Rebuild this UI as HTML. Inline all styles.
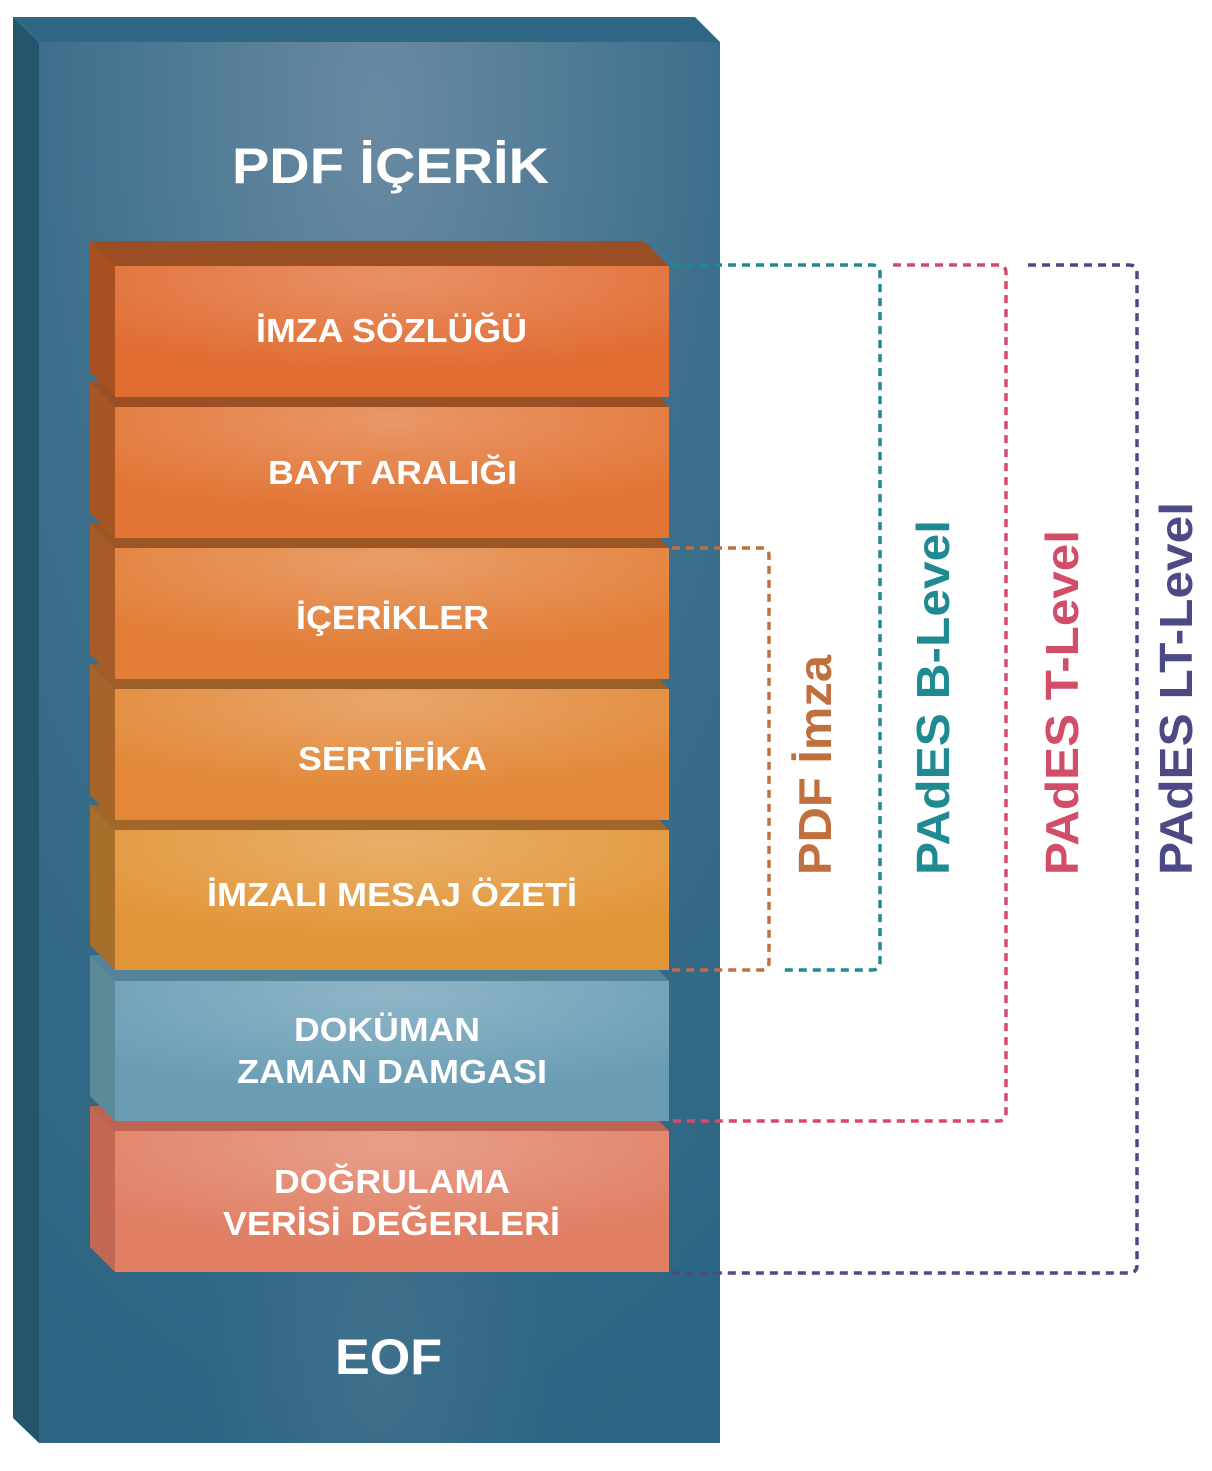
<!DOCTYPE html>
<html><head><meta charset="utf-8"><style>
html,body{margin:0;padding:0;background:#fff;}
svg{display:block}
text{font-family:"Liberation Sans",sans-serif;font-weight:bold;}
</style></head><body>
<svg width="1212" height="1471" viewBox="0 0 1212 1471" xmlns="http://www.w3.org/2000/svg">
<defs>
<radialGradient id="bg" cx="0.5" cy="0.05" r="1.0">
<stop offset="0" stop-color="#6a8aa2"/><stop offset="0.5" stop-color="#3c6f8c"/><stop offset="1" stop-color="#2b6583"/>
</radialGradient>
<radialGradient id="bg2" cx="0.5" cy="0.95" r="0.25">
<stop offset="0" stop-color="#4a7590" stop-opacity="0.6"/><stop offset="1" stop-color="#4a7590" stop-opacity="0"/>
</radialGradient>
<radialGradient id="sh" cx="0.5" cy="0.1" r="0.7"><stop offset="0" stop-color="#fff" stop-opacity="0.25"/><stop offset="1" stop-color="#fff" stop-opacity="0"/></radialGradient>
</defs>
<polygon points="13,17 695,17 720,42 39,42" fill="#2f6884"/>
<polygon points="13,17 39,42 39,1443 13,1418" fill="#23566c"/>
<rect x="39" y="42" width="681" height="1401" fill="url(#bg)"/>
<rect x="39" y="42" width="681" height="1401" fill="url(#bg2)"/>
<text x="232" y="183" font-size="50" fill="#fff" textLength="317" lengthAdjust="spacingAndGlyphs">PDF İÇERİK</text>
<text x="335" y="1374" font-size="50" fill="#fff" textLength="107" lengthAdjust="spacingAndGlyphs">EOF</text>

<g>
<polygon points="90,1106 644,1106 669,1131 115,1131" fill="#bd6552"/>
<polygon points="90,1106 115,1131 115,1272 90,1247" fill="#c36853"/>
<rect x="115" y="1131" width="554" height="141" fill="#e07f64"/><rect x="115" y="1131" width="554" height="141" fill="url(#sh)"/>
<text x="274" y="1193" font-size="33" fill="#fff" textLength="236" lengthAdjust="spacingAndGlyphs">DOĞRULAMA</text>
<text x="223" y="1235" font-size="33" fill="#fff" textLength="337" lengthAdjust="spacingAndGlyphs">VERİSİ DEĞERLERİ</text>

<polygon points="90,955 644,955 669,981 115,981" fill="#55849a"/>
<polygon points="90,955 115,981 115,1121 90,1096" fill="#5d8a99"/>
<rect x="115" y="981" width="554" height="140" fill="#6a9db4"/><rect x="115" y="981" width="554" height="140" fill="url(#sh)"/>
<text x="294" y="1041" font-size="33" fill="#fff" textLength="186" lengthAdjust="spacingAndGlyphs">DOKÜMAN</text>
<text x="237" y="1083" font-size="33" fill="#fff" textLength="310" lengthAdjust="spacingAndGlyphs">ZAMAN DAMGASI</text>

<polygon points="90,805 644,805 669,830 115,830" fill="#a0662a"/>
<polygon points="90,805 115,830 115,970 90,945" fill="#a86f2a"/>
<rect x="115" y="830" width="554" height="140" fill="#e29538"/><rect x="115" y="830" width="554" height="140" fill="url(#sh)"/>
<text x="207" y="906" font-size="33" fill="#fff" textLength="370" lengthAdjust="spacingAndGlyphs">İMZALI MESAJ ÖZETİ</text>

<polygon points="90,664 644,664 669,689 115,689" fill="#9e5e28"/>
<polygon points="90,664 115,689 115,820 90,795" fill="#a86428"/>
<rect x="115" y="689" width="554" height="131" fill="#e28838"/><rect x="115" y="689" width="554" height="131" fill="url(#sh)"/>
<text x="298" y="770" font-size="33" fill="#fff" textLength="189" lengthAdjust="spacingAndGlyphs">SERTİFİKA</text>

<polygon points="90,523 644,523 669,548 115,548" fill="#9c5626"/>
<polygon points="90,523 115,548 115,679 90,654" fill="#a85b26"/>
<rect x="115" y="548" width="554" height="131" fill="#e27e37"/><rect x="115" y="548" width="554" height="131" fill="url(#sh)"/>
<text x="296" y="629" font-size="33" fill="#fff" textLength="193" lengthAdjust="spacingAndGlyphs">İÇERİKLER</text>

<polygon points="90,382 644,382 669,407 115,407" fill="#9a5024"/>
<polygon points="90,382 115,407 115,538 90,513" fill="#a85524"/>
<rect x="115" y="407" width="554" height="131" fill="#e27535"/><rect x="115" y="407" width="554" height="131" fill="url(#sh)"/>
<text x="268" y="484" font-size="33" fill="#fff" textLength="249" lengthAdjust="spacingAndGlyphs">BAYT ARALIĞI</text>

<polygon points="90,241 644,241 669,266 115,266" fill="#9a4e24"/>
<polygon points="90,241 115,266 115,397 90,372" fill="#a85022"/>
<rect x="115" y="266" width="554" height="131" fill="#e16d33"/><rect x="115" y="266" width="554" height="131" fill="url(#sh)"/>
<text x="256" y="342" font-size="33" fill="#fff" textLength="271" lengthAdjust="spacingAndGlyphs">İMZA SÖZLÜĞÜ</text>
</g>

<g fill="none" stroke-width="3.5" stroke-dasharray="8,6">
<path d="M672,548 H762 Q769,548 769,556 V962 Q769,970 762,970 H672" stroke="#c0703e"/>
<path d="M672,265 H872 Q880,265 880,273 V962 Q880,970 872,970 H782" stroke="#1f8a92"/>
<path d="M893,265 H998 Q1006,265 1006,273 V1113 Q1006,1121 998,1121 H672" stroke="#d24d68"/>
<path d="M1028,265 H1129 Q1137,265 1137,273 V1265 Q1137,1273 1129,1273 H672" stroke="#4b4a84"/>
</g>

<g font-size="46">
<text transform="translate(831,875) rotate(-90)" fill="#c0703e" textLength="220" lengthAdjust="spacingAndGlyphs">PDF İmza</text>
<text transform="translate(949,875) rotate(-90)" fill="#1f8a92" textLength="355" lengthAdjust="spacingAndGlyphs">PAdES B-Level</text>
<text transform="translate(1078,875) rotate(-90)" fill="#d24d68" textLength="345" lengthAdjust="spacingAndGlyphs">PAdES T-Level</text>
<text transform="translate(1192,875) rotate(-90)" fill="#4b4a84" textLength="373" lengthAdjust="spacingAndGlyphs">PAdES LT-Level</text>
</g>
</svg>
</body></html>
